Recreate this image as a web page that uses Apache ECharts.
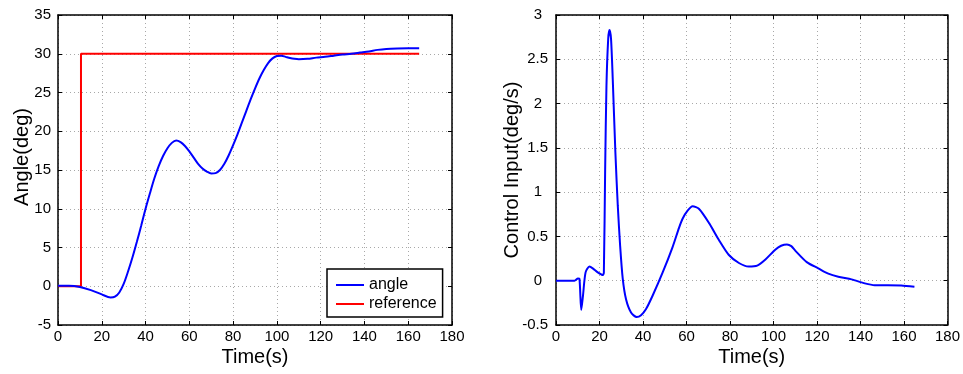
<!DOCTYPE html>
<html>
<head>
<meta charset="utf-8">
<script src="https://cdn.jsdelivr.net/npm/echarts@6/dist/echarts.min.js"></script>
<style>
html,body{margin:0;padding:0;background:#fff;}
#c{width:963px;height:374px;}
</style>
</head>
<body>
<div id="c"></div>
<script>
// ---- data ----
var angleT = [0,5,10,15,20,24,26,28,30,32,34,36,38,40,42,44,46,48,50,52,54,56,58,60,62,64,66,68,70,72,74,76,78,80,82,84,86,88,90,92,94,96,98,100,102,104,106,108,110,114,118,122,126,130,134,138,142,146,150,155,160,165];
var angleV = [0.05,0.05,-0.1,-0.5,-1.05,-1.45,-1.35,-0.8,0.3,1.9,3.7,5.7,7.8,10,12,13.9,15.5,16.8,17.8,18.5,18.8,18.6,18.1,17.4,16.6,15.8,15.2,14.8,14.55,14.6,15.0,15.8,16.9,18.2,19.6,21.1,22.6,24.1,25.5,26.8,27.9,28.8,29.4,29.7,29.75,29.6,29.45,29.35,29.3,29.35,29.5,29.6,29.75,29.9,30.0,30.15,30.3,30.5,30.62,30.68,30.7,30.7];
var refT = [0,10.5,10.5,165];
var refV = [0,0,30,30];
var ctrlT = [0,8.5,10.1,10.8,11.6,12.4,13.6,15.4,16.9,19.2,21.5,22,22.6,23.2,24,24.6,25.3,26.1,27.3,28.4,29.5,30.7,32.2,34.5,37.1,39.1,41.4,44.4,49,53.6,56.6,58.2,60.5,62.8,65.8,70.4,74.9,79.5,84.1,88.6,92.5,96.3,100.8,103.5,106.2,108.2,110,115.3,120.6,125.2,129.8,135.9,142,146.5,152.6,158.7,164.8];
var ctrlV = [0,0,0.026,0.02,-0.33,-0.17,0.094,0.16,0.14,0.094,0.064,0.09,1.26,2.2,2.73,2.83,2.73,2.27,1.45,0.85,0.39,0.02,-0.21,-0.36,-0.41,-0.39,-0.32,-0.17,0.09,0.38,0.6,0.7,0.79,0.84,0.81,0.65,0.46,0.29,0.2,0.16,0.17,0.24,0.35,0.395,0.41,0.39,0.34,0.21,0.14,0.08,0.045,0.015,-0.03,-0.05,-0.05,-0.055,-0.068];
var xTicks = {min:0,max:180,interval:20};
var leftY = {min:-5,max:35,interval:5};
var rightY = {min:-0.5,max:3,interval:0.5};

function pairs(t,v){return t.map(function(x,i){return [x,v[i]];});}

var FONT = 'Liberation Sans, Arial, sans-serif';
var axisLineStyle = {color:'#000',width:1.5};
var gridLine = {show:true,lineStyle:{color:'#a8a8a8',width:1,type:[1,3]}};

function mainX(gi){
  return {type:'value',gridIndex:gi,position:'bottom',min:xTicks.min,max:xTicks.max,interval:xTicks.interval,
    name:'Time(s)',nameLocation:'middle',nameGap:22,nameMoveOverlap:false,
    nameTextStyle:{fontFamily:FONT,fontSize:20,color:'#000'},
    axisLine:{show:true,onZero:false,lineStyle:axisLineStyle},
    axisTick:{show:true,inside:true,length:4,lineStyle:{color:'#000'}},
    axisLabel:{fontFamily:FONT,fontSize:15,color:'#000',margin:4},
    splitLine:gridLine};
}
function topX(gi){
  return {type:'value',gridIndex:gi,position:'top',min:xTicks.min,max:xTicks.max,interval:xTicks.interval,
    axisLine:{show:true,onZero:false,lineStyle:axisLineStyle},
    axisTick:{show:true,inside:true,length:4,lineStyle:{color:'#000'}},
    axisLabel:{show:false},splitLine:{show:false}};
}
function rightYAxis(gi,r){
  return {type:'value',gridIndex:gi,position:'right',min:r.min,max:r.max,interval:r.interval,
    axisLine:{show:true,onZero:false,lineStyle:axisLineStyle},
    axisTick:{show:true,inside:true,length:4,lineStyle:{color:'#000'}},
    axisLabel:{show:false},splitLine:{show:false}};
}

var option = {
  backgroundColor:'#fff',
  animation:false,
  grid:[
    {left:58,top:15,width:394,height:310},
    {left:556,top:15,width:394,height:310}
  ],
  legend:{
    left:327,top:269,orient:'vertical',
    backgroundColor:'#fff',borderColor:'#000',borderWidth:1.5,
    padding:[8,6,5,8],itemWidth:28,itemHeight:14,itemGap:3,
    itemStyle:{opacity:0},
    lineStyle:{width:2},
    textStyle:{fontFamily:FONT,fontSize:16,color:'#000'},
    data:['angle','reference']
  },
  xAxis:[mainX(0),topX(0),mainX(1),topX(1)],
  yAxis:[
    {type:'value',gridIndex:0,position:'left',min:leftY.min,max:leftY.max,interval:leftY.interval,
      name:'Angle(deg)',nameLocation:'middle',nameGap:26,nameMoveOverlap:false,
      nameTextStyle:{fontFamily:FONT,fontSize:20,color:'#000',padding:[0,0,0,26]},
      axisLine:{show:true,onZero:false,lineStyle:axisLineStyle},
      axisTick:{show:true,inside:true,length:4,lineStyle:{color:'#000'}},
      axisLabel:{fontFamily:FONT,fontSize:15,color:'#000',margin:7},
      splitLine:gridLine},
    rightYAxis(0,leftY),
    {type:'value',gridIndex:1,position:'left',min:rightY.min,max:rightY.max,interval:rightY.interval,
      name:'Control Input(deg/s)',nameLocation:'middle',nameGap:34,nameMoveOverlap:false,
      nameTextStyle:{fontFamily:FONT,fontSize:20,color:'#000'},
      axisLine:{show:true,onZero:false,lineStyle:axisLineStyle},
      axisTick:{show:true,inside:true,length:4,lineStyle:{color:'#000'}},
      axisLabel:{fontFamily:FONT,fontSize:15,color:'#000',margin:8,
        formatter:function(v){return Number.isInteger(v)?'{i|'+v+'}':String(v);},
        rich:{i:{fontFamily:FONT,fontSize:15,color:'#000',padding:[0,6,0,0]}}},
      splitLine:gridLine},
    rightYAxis(1,rightY)
  ],
  series:[
    {name:'angle',type:'line',xAxisIndex:0,yAxisIndex:0,data:pairs(angleT,angleV),
      symbol:'none',smooth:0.3,lineStyle:{color:'#0000ff',width:2},itemStyle:{color:'#0000ff'},z:3},
    {name:'reference',type:'line',xAxisIndex:0,yAxisIndex:0,data:pairs(refT,refV),
      symbol:'none',lineStyle:{color:'#ff0000',width:2},itemStyle:{color:'#ff0000'},z:2},
    {name:'control',type:'line',xAxisIndex:2,yAxisIndex:2,data:pairs(ctrlT,ctrlV),
      symbol:'none',smooth:0.25,lineStyle:{color:'#0000ff',width:2},itemStyle:{color:'#0000ff'}}
  ]
};
var chart = echarts.init(document.getElementById('c'),null,{renderer:'canvas'});
chart.setOption(option);
</script>
</body>
</html>
